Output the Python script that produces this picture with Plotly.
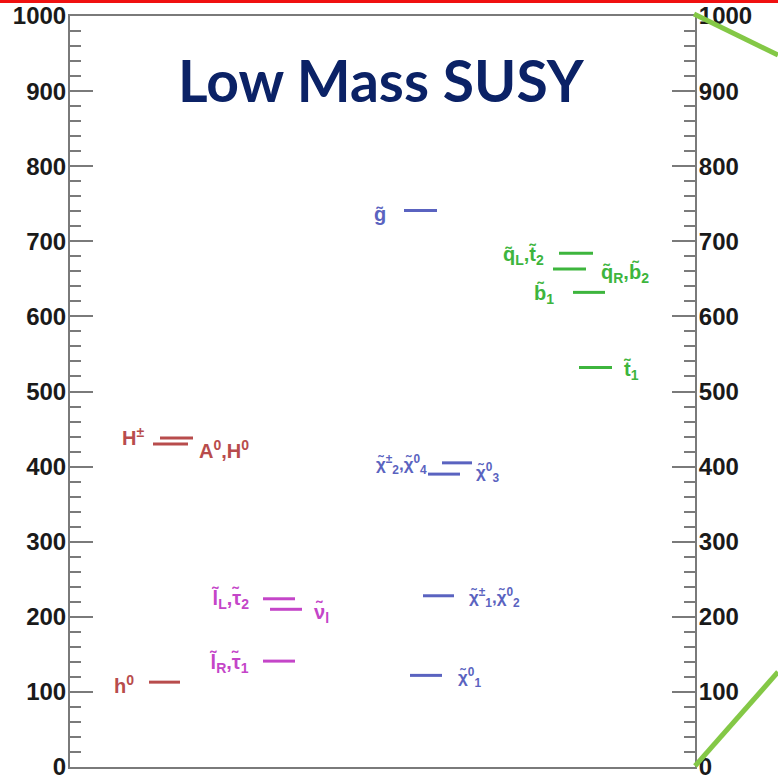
import plotly.graph_objects as go

# ---------------- data (masses in GeV) ----------------
higgs_labels = ["h<sup>0</sup>", "H<sup>±</sup>", "A<sup>0</sup>,H<sup>0</sup>"]
higgs_masses = [113, 438, 430]

slepton_labels = ["l\u0303<sub>R</sub>,τ\u0303<sub>1</sub>", "l\u0303<sub>L</sub>,τ\u0303<sub>2</sub>", "ν\u0303<sub>l</sub>"]
slepton_masses = [141, 224, 210]

gaugino_labels = ["χ\u0303<sup>0</sup><sub>1</sub>", "χ\u0303<sup>±</sup><sub>1</sub>,χ\u0303<sup>0</sup><sub>2</sub>",
                  "χ\u0303<sup>±</sup><sub>2</sub>,χ\u0303<sup>0</sup><sub>4</sub>", "χ\u0303<sup>0</sup><sub>3</sub>", "g\u0303"]
gaugino_masses = [122, 228, 390, 405, 741]

squark_labels = ["t\u0303<sub>1</sub>", "b\u0303<sub>1</sub>", "q\u0303<sub>R</sub>,b\u0303<sub>2</sub>", "q\u0303<sub>L</sub>,t\u0303<sub>2</sub>"]
squark_masses = [532, 632, 663, 684]

y_ticks = [0, 100, 200, 300, 400, 500, 600, 700, 800, 900, 1000]

# ---------------- layout helpers (horizontal placement) ----------------
# x positions in plot-area units (0..625); each level: (x0, x1, label_x, anchor, yshift, font size)
higgs_pos = [(79, 110, 66, "right", -2, 20), (90, 123, 76, "right", 2, 20), (83, 118, 127, "left", -5, 20)]
slepton_pos = [(193, 225, 181, "right", -2, 20), (193, 225, 181, "right", 0, 20), (200, 232, 242, "left", -4, 20)]
gaugino_pos = [(340, 372, 386, "left", -2, 17), (353, 384, 397, "left", -2, 17),
               (358, 390, 359, "right", 10, 17), (372, 402, 404, "left", -10, 17), (334, 367, 318, "right", -3, 20)]
squark_pos = [(509, 542, 551, "left", -3, 20), (503, 535, 486, "right", -2, 20),
              (483, 516, 529, "left", -4, 20), (489, 523, 476, "right", -2, 20)]

groups = [
    (higgs_labels, higgs_masses, higgs_pos, "#b84c4c"),
    (slepton_labels, slepton_masses, slepton_pos, "#c445c8"),
    (gaugino_labels, gaugino_masses, gaugino_pos, "#5a63c0"),
    (squark_labels, squark_masses, squark_pos, "#3db53d"),
]

fig = go.Figure()
annotations = []
for labels, masses, pos, color in groups:
    xs, ys = [], []
    for m, p in zip(masses, pos):
        xs += [p[0], p[1], None]
        ys += [m, m, None]
    fig.add_trace(go.Scatter(x=xs, y=ys, mode="lines", line=dict(color=color, width=3),
                             showlegend=False, hoverinfo="skip"))
    for lab, m, p in zip(labels, masses, pos):
        annotations.append(dict(x=p[2], y=m, xref="x", yref="y", text=lab, showarrow=False,
                                xanchor=p[3], yanchor="middle", yshift=p[4],
                                font=dict(family="Liberation Sans, Arial", size=p[5], color=color, weight="bold")))

# invisible trace for right axis
fig.add_trace(go.Scatter(x=[None], y=[None], yaxis="y2", showlegend=False))

annotations.append(dict(x=311, y=915, xref="x", yref="y", text="Low Mass SUSY", showarrow=False,
                        xanchor="center", yanchor="middle",
                        font=dict(family="Lato", size=57, color="#0b2266", weight="bold")))

axis_common = dict(range=[0, 1000], tickvals=y_ticks, ticks="inside", ticklen=23, tickwidth=2,
                   tickcolor="#7a7a7a", showline=True, linecolor="#7a7a7a", linewidth=2,
                   showgrid=False, zeroline=False, automargin=False, ticklabeloverflow="allow",
                   ticklabelstandoff=-3,
                   tickfont=dict(family="Liberation Sans, Arial", size=24, color="#1a1a1a", weight="bold"),
                   minor=dict(dtick=20, ticks="inside", ticklen=11, tickwidth=2, tickcolor="#7a7a7a"))

fig.update_layout(
    width=778, height=779,
    margin=dict(l=70, r=83, t=16, b=12, autoexpand=False),
    paper_bgcolor="white", plot_bgcolor="white",
    xaxis=dict(range=[0, 625], showline=True, mirror=True, linecolor="#7a7a7a", linewidth=2,
               ticks="", showticklabels=False, showgrid=False, zeroline=False, automargin=False),
    yaxis=dict(side="left", **axis_common),
    yaxis2=dict(side="right", overlaying="y", **axis_common),
    annotations=annotations,
    shapes=[
        dict(type="line", xref="paper", yref="paper", x0=-0.12, x1=1.14, y0=1.0193, y1=1.0193,
             line=dict(color="#f01010", width=3), layer="above"),
        dict(type="line", xref="paper", yref="paper", x0=0.9984, x1=1.1328, y0=1.0027, y1=0.948,
             line=dict(color="#84c846", width=5), layer="above"),
        dict(type="line", xref="paper", yref="paper", x0=1.0, x1=1.1328, y0=0.0013, y1=0.1265,
             line=dict(color="#84c846", width=5), layer="above"),
    ],
)

fig.write_html("out.html")
